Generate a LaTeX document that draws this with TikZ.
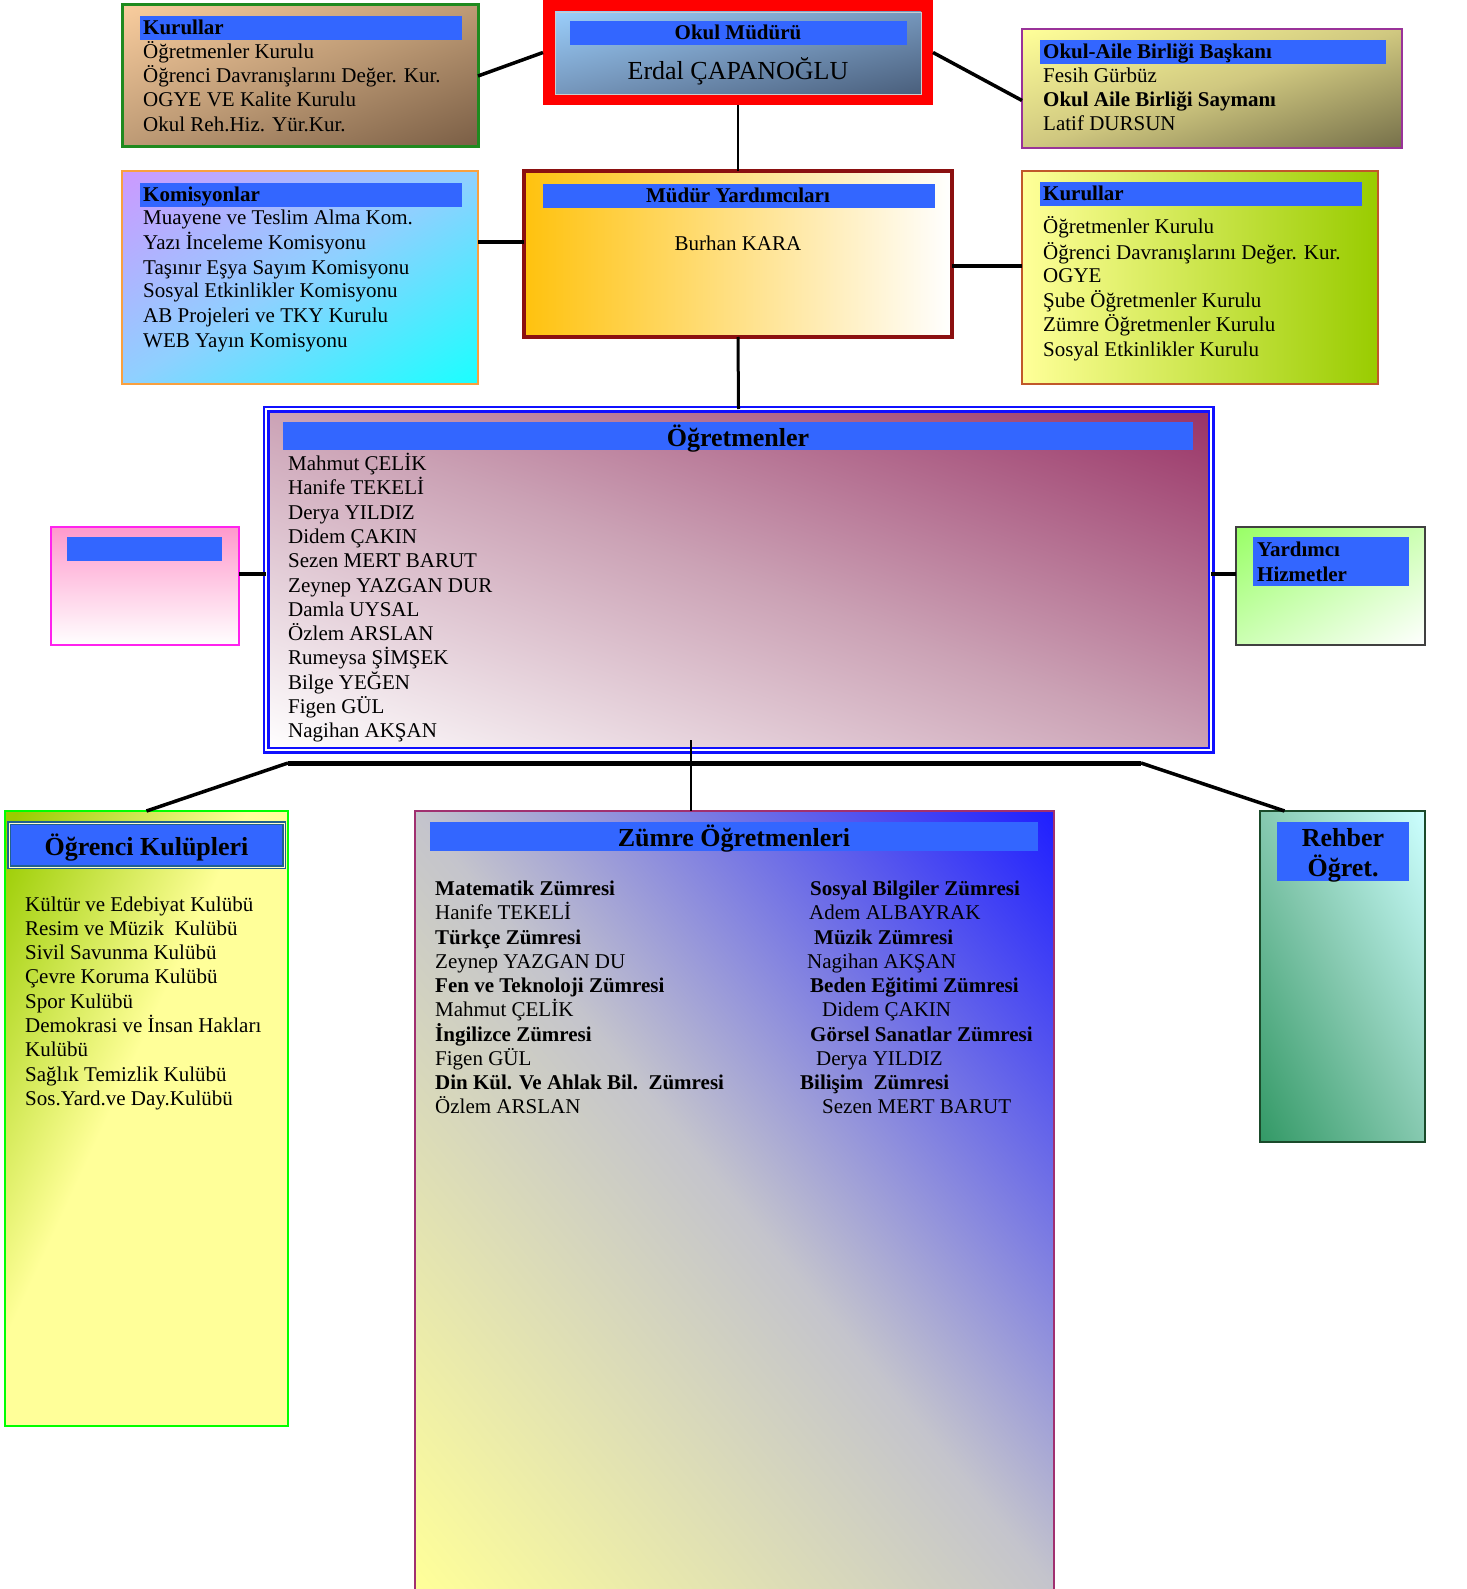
\documentclass[tikz,border=0pt]{standalone}
\usepackage{fontspec}
\setmainfont{Liberation Serif}
\usetikzlibrary{fit,calc}
\definecolor{hdr}{HTML}{3366FF}
\definecolor{kurtlA}{HTML}{F9CD9E}
\definecolor{kurtlM}{HTML}{BD9A75}
\definecolor{kurtlC}{HTML}{7A5E45}
\definecolor{kurtlB}{HTML}{1F8A1F}
\definecolor{mudA}{HTML}{9ACDFA}
\definecolor{mudM}{HTML}{7596BB}
\definecolor{mudC}{HTML}{4A5F7C}
\definecolor{oabA}{HTML}{FFFF99}
\definecolor{oabM}{HTML}{D0C880}
\definecolor{oabC}{HTML}{76704A}
\definecolor{oabB}{HTML}{993399}
\definecolor{komA}{HTML}{CC99FF}
\definecolor{komM}{HTML}{8FD0FF}
\definecolor{komC}{HTML}{1AFFFF}
\definecolor{komB}{HTML}{F9A03F}
\definecolor{myrdA}{HTML}{FFC20E}
\definecolor{myrdB}{HTML}{8B1010}
\definecolor{kurrA}{HTML}{FFFF99}
\definecolor{kurrC}{HTML}{99CC00}
\definecolor{kurrB}{HTML}{C0582A}
\definecolor{ogrA}{HTML}{993366}
\definecolor{ogrM}{HTML}{CBA2B5}
\definecolor{ogrB}{HTML}{1010FF}
\definecolor{pinkA}{HTML}{FF99CC}
\definecolor{pinkB}{HTML}{FF22EE}
\definecolor{yardA}{HTML}{99FF66}
\definecolor{yardM}{HTML}{CCFFB3}
\definecolor{yardB}{HTML}{404040}
\definecolor{kgreen}{HTML}{99CC00}
\definecolor{kyellow}{HTML}{FFFF99}
\definecolor{kulB}{HTML}{00FF00}
\definecolor{kteal}{HTML}{206090}
\definecolor{kpale}{HTML}{FFFFCC}
\definecolor{zumA}{HTML}{1F1FFF}
\definecolor{zumM}{HTML}{C4C4CC}
\definecolor{zumC}{HTML}{FFFF99}
\definecolor{zumB}{HTML}{A03070}
\definecolor{rehA}{HTML}{CCFFFF}
\definecolor{rehM}{HTML}{86C9B0}
\definecolor{rehC}{HTML}{339966}
\definecolor{rehB}{HTML}{1A4A2A}
\definecolor{white}{HTML}{FFFFFF}
% vertical shadings: 0bp = bottom, 100bp = top; corners of a 45-degree rotated square reach 14.6bp and 85.4bp
\newcommand\mkdiag[4]{\pgfdeclareverticalshading{#1}{100bp}{color(0bp)=(#2); color(14.6bp)=(#2); color(50bp)=(#3); color(85.4bp)=(#4); color(100bp)=(#4)}}
\mkdiag{sKurtl}{kurtlC}{kurtlM}{kurtlA}
\mkdiag{sMud}{mudC}{mudM}{mudA}
\mkdiag{sOab}{oabC}{oabM}{oabA}
\mkdiag{sKom}{komC}{komM}{komA}
\mkdiag{sOgr}{white}{ogrM}{ogrA}
\mkdiag{sYard}{white}{yardM}{yardA}
\mkdiag{sZum}{zumC}{zumM}{zumA}
\mkdiag{sReh}{rehC}{rehM}{rehA}
\pgfdeclareverticalshading{sKul}{100bp}{color(0bp)=(kyellow); color(55bp)=(kyellow); color(84bp)=(kgreen); color(100bp)=(kgreen)}
\newcommand\mydiagshade[6]{%
  \pgfmathsetmacro\dsx{(#3-#1)/100}\pgfmathsetmacro\dsy{(#4-#2)/100}%
  \begin{scope}[transform canvas={shift={(#1,#2)}, xscale=\dsx, yscale=\dsy}]
    \shade[shading=#5, shading angle=#6] (0,0) rectangle (100,100);
  \end{scope}}
\begin{document}
\begin{tikzpicture}[x=1pt,y=-1pt,
  bx/.style={inner sep=0pt, outer sep=0pt},
  hbar/.style={bx, fill=hdr},
  t/.style={anchor=base west, inner sep=0pt, font=\fontsize{21}{25}\selectfont},
  tb/.style={anchor=base west, inner sep=0pt, font=\fontsize{21}{25}\selectfont\bfseries},
  tbc/.style={anchor=base, inner sep=0pt, font=\fontsize{21}{25}\selectfont\bfseries},
  tc/.style={anchor=base, inner sep=0pt, font=\fontsize{21}{25}\selectfont},
  big/.style={anchor=base, inner sep=0pt, font=\fontsize{26}{30}\selectfont},
  bigb/.style={anchor=base, inner sep=0pt, font=\fontsize{26}{30}\selectfont\bfseries},
  con/.style={draw=black, line width=3.5pt}
]
\useasboundingbox (0,0) rectangle (1466,1589);

% ---------- diagonal gradient fills ----------
\mydiagshade{122}{5}{478}{147}{sKurtl}{45}
\mydiagshade{1022}{29}{1402}{148}{sOab}{45}
\mydiagshade{122}{171}{478}{384}{sKom}{45}
\mydiagshade{266}{409}{1211}{750}{sOgr}{-45}
\mydiagshade{1236}{527}{1425}{645}{sYard}{45}
\mydiagshade{5}{811}{288}{1426}{sKul}{45}
\mydiagshade{415}{811}{1054}{1589}{sZum}{-45}
\mydiagshade{1260}{811}{1425}{1142}{sReh}{-45}

% ---------- boxes ----------
\node[bx, fit={(122,5)(478,147)}, draw=kurtlB, line width=3pt] (kurtl) {};
\node[bx, fit={(543,0)(933,105)}, fill=red] (mudur) {};
\mydiagshade{555}{12}{921}{94}{sMud}{45}
\node[bx, fit={(555,12)(921,94)}, draw=gray!40, line width=0.8pt] (mudin) {};
\node[bx, fit={(1022,29)(1402,148)}, draw=oabB, line width=2.5pt] (oab) {};
\node[bx, fit={(122,171)(478,384)}, draw=komB, line width=2.5pt] (kom) {};
\node[bx, fit={(524,171)(952,337)}, left color=myrdA, right color=white, draw=myrdB, line width=4pt] (myrd) {};
\node[bx, fit={(1022,171)(1378,384)}, left color=kurrA, right color=kurrC, draw=kurrB, line width=2.5pt] (kurr) {};
\node[bx, fit={(266,409)(1211,750)}, draw=ogrB, double=white, double distance=2pt, line width=2.5pt] (ogr) {};
\node[bx, fit={(51,527)(239,645)}, top color=pinkA, bottom color=white, draw=pinkB, line width=2.5pt] (pink) {};
\node[bx, fit={(1236,527)(1425,645)}, draw=yardB, line width=2.5pt] (yard) {};
\node[bx, fit={(5,811)(288,1426)}, draw=kulB, line width=2.5pt] (kulup) {};
\node[bx, fit={(415,811)(1054,1600)}, draw=zumB, line width=2pt] (zumre) {};
\node[bx, fit={(1260,811)(1425,1142)}, draw=rehB, line width=2.5pt] (rehber) {};

% ---------- header bars ----------
\node[hbar, fit={(140,16)(462,40)}] (h1) {};
\node[hbar, fit={(570,21)(907,45)}] (h2) {};
\node[hbar, fit={(1040,40)(1386,64)}] (h3) {};
\node[hbar, fit={(140,183)(462,207)}] (h4) {};
\node[hbar, fit={(543,184)(935,208)}] (h5) {};
\node[hbar, fit={(1040,182)(1362,206)}] (h6) {};
\node[hbar, fit={(283,422)(1193,450)}] (h7) {};
\node[hbar, fit={(67,537)(222,561)}] (h8) {};
\node[hbar, fit={(1253,537)(1409,586)}] (h9) {};
\node[hbar, fit={(9,823)(284,867)}, draw=kteal, double=kpale, double distance=0.8pt, line width=1.6pt] (h10) {};
\node[hbar, fit={(430,822)(1038,851)}] (h11) {};
\node[hbar, fit={(1277,822)(1409,881)}] (h12) {};

% ---------- connectors ----------
\draw[con] (kurtl.east) -- (mudur.west);
\draw[con] (mudur.east) -- ([yshift=-12pt]oab.west);
\draw[draw=black, line width=1.5pt] (mudur.south) -- (myrd.north);
\coordinate (c1) at ([yshift=12pt]myrd.west);
\draw[con, line width=4.5pt] (c1) -- (kom.east |- c1);
\coordinate (c2) at ([yshift=-12pt]myrd.east);
\draw[con, line width=4pt] (c2) -- (kurr.west |- c2);
\draw[con, line width=3pt] (myrd.south) -- (ogr.north);
\coordinate (c3) at ([yshift=12pt]pink.east);
\draw[con, line width=4pt] (c3) -- (ogr.west |- c3);
\coordinate (c4) at ([yshift=12pt]yard.west);
\draw[con, line width=4pt] (c4) -- (ogr.east |- c4);
\coordinate (busL) at (288,763);
\coordinate (busR) at (1141,763);
\draw[con, line width=5pt] (busL) -- (busR);
\draw[con] (busL) -- (kulup.north);
\draw[con] (busR) -- ([xshift=-58pt]rehber.north);
\coordinate (vtop) at (691,740);
\draw[draw=black, line width=2.5pt] (vtop) -- (vtop |- zumre.north);

% ---------- texts: Kurullar (top left) ----------
\node[tb] (a0) at (143,35) {Kurullar};
\node[t] (a1) at (143,59) {Öğretmenler Kurulu};
\node[t] (a2) at (143,83) {Öğrenci Davranışlarını Değer. Kur.};
\node[t] (a3) at (143,107) {OGYE VE Kalite Kurulu};
\node[t] (a4) at (143,132) {Okul Reh.Hiz. Yür.Kur.};

% ---------- Okul Müdürü ----------
\node[tbc] (b0) at (738,40) {Okul Müdürü};
\node[big] (b1) at (738,80) {Erdal ÇAPANOĞLU};

% ---------- Okul-Aile Birliği ----------
\node[tb] (c0t) at (1043,59) {Okul-Aile Birliği Başkanı};
\node[t] (c1t) at (1043,83) {Fesih Gürbüz};
\node[tb] (c2t) at (1043,107) {Okul Aile Birliği Saymanı};
\node[t] (c3t) at (1043,131) {Latif DURSUN};

% ---------- Komisyonlar ----------
\node[tb] (d0) at (143,202) {Komisyonlar};
\node[t] (d1) at (143,225) {Muayene ve Teslim Alma Kom.};
\node[t] (d2) at (143,250) {Yazı İnceleme Komisyonu};
\node[t] (d3) at (143,274) {Taşınır Eşya Sayım Komisyonu};
\node[t] (d4) at (143,298) {Sosyal Etkinlikler Komisyonu};
\node[t] (d5) at (143,322) {AB Projeleri ve TKY Kurulu};
\node[t] (d6) at (143,347) {WEB Yayın Komisyonu};

% ---------- Müdür Yardımcıları ----------
\node[tbc] (e0) at (738,203) {Müdür Yardımcıları};
\node[tc] (e1) at (738,251) {Burhan KARA};

% ---------- Kurullar (right) ----------
\node[tb] (f0) at (1043,201) {Kurullar};
\node[t] (f1) at (1043,234) {Öğretmenler Kurulu};
\node[t] (f2) at (1043,259) {Öğrenci Davranışlarını Değer. Kur.};
\node[t] (f3) at (1043,282) {OGYE};
\node[t] (f4) at (1043,307) {Şube Öğretmenler Kurulu};
\node[t] (f5) at (1043,331) {Zümre Öğretmenler Kurulu};
\node[t] (f6) at (1043,356) {Sosyal Etkinlikler Kurulu};

% ---------- Öğretmenler ----------
\node[bigb] (g0) at (738,446) {Öğretmenler};
\begin{scope}
\clip (270,452) rectangle (1207,741);
\node[t] (g1) at (288,470) {Mahmut ÇELİK};
\node[t] (g2) at (288,494.5) {Hanife TEKELİ};
\node[t] (g3) at (288,519) {Derya YILDIZ};
\node[t] (g4) at (288,543) {Didem ÇAKIN};
\node[t] (g5) at (288,567) {Sezen MERT BARUT};
\node[t] (g6) at (288,592) {Zeynep YAZGAN DUR};
\node[t] (g7) at (288,616) {Damla UYSAL};
\node[t] (g8) at (288,640) {Özlem ARSLAN};
\node[t] (g9) at (288,664) {Rumeysa ŞİMŞEK};
\node[t] (g10) at (288,689) {Bilge YEĞEN};
\node[t] (g11) at (288,713) {Figen GÜL};
\node[t] (g12) at (288,737) {Nagihan AKŞAN};
\end{scope}

% ---------- Yardımcı Hizmetler ----------
\node[tb] (y1) at (1257,556) {Yardımcı};
\node[tb] (y2) at (1257,581) {Hizmetler};

% ---------- Öğrenci Kulüpleri ----------
\node[bigb] (k0) at (146.5,855) {Öğrenci Kulüpleri};
\node[t] (k1) at (25,911) {Kültür ve Edebiyat Kulübü};
\node[t] (k2) at (25,935) {Resim ve Müzik\ \ Kulübü};
\node[t] (k3) at (25,959) {Sivil Savunma Kulübü};
\node[t] (k4) at (25,983) {Çevre Koruma Kulübü};
\node[t] (k5) at (25,1008) {Spor Kulübü};
\node[t] (k6) at (25,1032) {Demokrasi ve İnsan Hakları};
\node[t] (k7) at (25,1056) {Kulübü};
\node[t] (k8) at (25,1081) {Sağlık Temizlik Kulübü};
\node[t] (k9) at (25,1105) {Sos.Yard.ve Day.Kulübü};

% ---------- Zümre Öğretmenleri ----------
\node[bigb] (z0) at (734,846) {Zümre Öğretmenleri};
\node[tb] (z1) at (435,895) {Matematik Zümresi};
\node[t] (z2) at (435,919) {Hanife TEKELİ};
\node[tb] (z3) at (435,944) {Türkçe Zümresi};
\node[t] (z4) at (435,968) {Zeynep YAZGAN DU};
\node[tb] (z5) at (435,992) {Fen ve Teknoloji Zümresi};
\node[t] (z6) at (435,1016) {Mahmut ÇELİK};
\node[tb] (z7) at (435,1041) {İngilizce Zümresi};
\node[t] (z8) at (435,1065) {Figen GÜL};
\node[tb] (z9) at (435,1089) {Din Kül. Ve Ahlak Bil.\ \ Zümresi};
\node[t] (z10) at (435,1113) {Özlem ARSLAN};
\node[tb] (r1) at (810,895) {Sosyal Bilgiler Zümresi};
\node[t] (r2) at (809,919) {Adem ALBAYRAK};
\node[tb] (r3) at (814,944) {Müzik Zümresi};
\node[t] (r4) at (807,968) {Nagihan AKŞAN};
\node[tb] (r5) at (810,992) {Beden Eğitimi Zümresi};
\node[t] (r6) at (822,1016) {Didem ÇAKIN};
\node[tb] (r7) at (810,1041) {Görsel Sanatlar Zümresi};
\node[t] (r8) at (816,1065) {Derya YILDIZ};
\node[tb] (r9) at (800,1089) {Bilişim\ \ Zümresi};
\node[t] (r10) at (822,1113) {Sezen MERT BARUT};

% ---------- Rehber Öğret. ----------
\node[bigb] (q1) at (1343,846) {Rehber};
\node[bigb] (q2) at (1343,876) {Öğret.};
\end{tikzpicture}
\end{document}
